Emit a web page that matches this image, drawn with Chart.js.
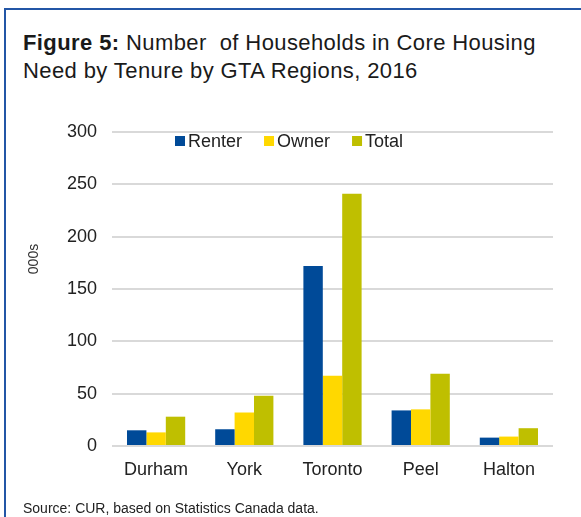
<!DOCTYPE html>
<html>
<head>
<meta charset="utf-8">
<script src="https://cdn.jsdelivr.net/npm/chart.js@4"></script>
<style>
  html, body { margin: 0; padding: 0; background: #fff; }
  #wrap { position: relative; width: 581px; height: 517px; overflow: hidden; font-family: "Liberation Sans", Arial, sans-serif; color: #1a1a1a; }
  #frame { position: absolute; left: 4px; top: 8px; width: 640px; height: 640px; border-left: 2px solid #2356a6; border-top: 2px solid #2356a6; }
  #title { position: absolute; left: 23px; top: 29px; font-size: 22px; line-height: 28px; letter-spacing: 0.4px; white-space: nowrap; }
  #source { position: absolute; left: 23px; top: 500px; font-size: 14px; line-height: 16px; white-space: nowrap; color: #222; }
  canvas { position: absolute; left: 0; top: 0; }
</style>
</head>
<body>
<div id="wrap">
  <div id="frame"></div>
  <div id="title"><b>Figure 5:</b> Number&nbsp; of Households in Core Housing<br>Need by Tenure by GTA Regions, 2016</div>
  <canvas id="chart" width="581" height="517"></canvas>
  <div id="source">Source: CUR, based on Statistics Canada data.</div>
</div>
<script>
'use strict';

// data (thousands of households)
const regions = ['Durham', 'York', 'Toronto', 'Peel', 'Halton'];
const renter = [15, 16, 172, 34, 8];
const owner = [13, 32, 67, 35, 9];
const total = [28, 48, 241, 69, 17];
const yTicks = [0, 50, 100, 150, 200, 250, 300];

const textColor = '#222';

// legend drawn inside the plot, the way the original has it
const insideLegend = {
  id: 'insideLegend',
  afterDraw(chart) {
    const ctx = chart.ctx;
    ctx.save();
    ctx.font = '18px "Liberation Sans", Arial, sans-serif';
    ctx.textBaseline = 'middle';
    let x = 175;
    const y = 141;
    chart.data.datasets.forEach((ds) => {
      ctx.fillStyle = ds.backgroundColor;
      ctx.fillRect(x, y - 5, 10, 10);
      x += 13;
      ctx.fillStyle = textColor;
      ctx.fillText(ds.label, x, y + 1);
      x += ctx.measureText(ds.label).width + 22;
    });

    // y axis title
    ctx.font = '14px "Liberation Sans", Arial, sans-serif';
    ctx.fillStyle = '#333';
    ctx.translate(34, 259);
    ctx.rotate(-Math.PI / 2);
    ctx.textAlign = 'center';
    ctx.fillText('000s', 0, 0);
    ctx.restore();
  },
};

const ctx = document.getElementById('chart');

const chart = new Chart(ctx, {
  type: 'bar',
  data: {
    labels: regions,
    datasets: [
      { label: 'Renter', data: renter, backgroundColor: '#004a98' },
      { label: 'Owner', data: owner, backgroundColor: '#ffd800' },
      { label: 'Total', data: total, backgroundColor: '#bfbf00' },
    ],
  },
  options: {
    responsive: false,
    animation: false,
    layout: { padding: { top: 132, right: 28, left: 0, bottom: 0 } },
    datasets: {
      bar: { categoryPercentage: 0.66, barPercentage: 1 },
    },
    plugins: {
      legend: { display: false },
      tooltip: { enabled: false },
    },
    scales: {
      x: {
        afterFit: (scale) => { scale.height = 71; },
        grid: { display: false },
        border: { display: false },
        ticks: {
          color: textColor,
          padding: 5,
          font: { size: 18, family: '"Liberation Sans", Arial, sans-serif' },
        },
      },
      y: {
        min: 0,
        max: 300,
        afterFit: (scale) => { scale.width = 112; },
        afterBuildTicks: (scale) => { scale.ticks = yTicks.map((v) => ({ value: v })); },
        grid: { color: '#d9d9d9', lineWidth: 2, drawTicks: false },
        border: { display: false },
        ticks: {
          color: textColor,
          padding: 15,
          font: { size: 18, family: '"Liberation Sans", Arial, sans-serif' },
        },
      },
    },
  },
  plugins: [insideLegend],
});
</script>
</body>
</html>
